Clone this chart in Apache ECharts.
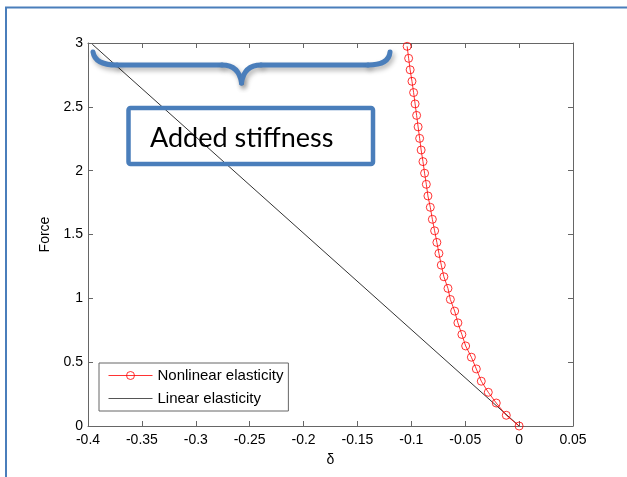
<!DOCTYPE html>
<html>
<head>
<meta charset="utf-8">
<script src="https://cdn.jsdelivr.net/npm/echarts@6/dist/echarts.min.js"></script>
<style>
    html, body { margin: 0; padding: 0; background: #fff; }
    #chart { width: 627px; height: 477px; }
</style>
</head>
<body>
<div id="chart"></div>
<script>
    // delta / force
    const nonlinearDelta = [0, -0.0119, -0.0212, -0.0286, -0.0351, -0.0397, -0.0443, -0.0496, -0.0531, -0.0568,
        -0.0598, -0.0638, -0.0660, -0.0698, -0.0722, -0.0744, -0.0763, -0.0784, -0.0805, -0.0824,
        -0.0846, -0.0861, -0.0877, -0.0892, -0.0909, -0.0923, -0.0937, -0.0951, -0.0965, -0.0979,
        -0.0994, -0.1011, -0.1025, -0.1039];
    const nonlinearForce = [0, 0.084, 0.180, 0.264, 0.351, 0.447, 0.539, 0.627, 0.717, 0.808,
        0.900, 0.991, 1.078, 1.169, 1.260, 1.352, 1.438, 1.529, 1.619, 1.713,
        1.802, 1.893, 1.980, 2.071, 2.162, 2.253, 2.343, 2.433, 2.523, 2.612,
        2.700, 2.790, 2.880, 2.974];
    const linearDelta = [0, -0.396];
    const linearForce = [0, 2.99];
    const seriesNames = ['Nonlinear elasticity', 'Linear elasticity'];
    const xTicks = { min: -0.4, max: 0.05, step: 0.05 };
    const yTicks = { min: 0, max: 3, step: 0.5 };

    const chart = echarts.init(document.getElementById('chart'));

    const axisColor = '#666';
    const font = 'Liberation Sans, Arial, sans-serif';
    const blue = '#4a7ebb';
    const red = 'rgba(255,0,0,0.8)';

    function fmt(v) {
        return String(Math.round(v * 100) / 100);
    }

    // 框线四边都带刻度，上/右轴只画刻度
    function xAxis(pos, labels) {
        return {
            type: 'value', position: pos,
            min: xTicks.min, max: xTicks.max, interval: xTicks.step,
            axisLine: { show: true, onZero: false, lineStyle: { color: axisColor, width: 1 } },
            axisTick: { show: true, inside: true, length: 5, lineStyle: { color: axisColor } },
            axisLabel: { show: labels, margin: 7, color: '#000', fontFamily: font, fontSize: 14, formatter: fmt },
            splitLine: { show: false },
            name: labels ? 'δ' : '', nameLocation: 'middle', nameGap: 27,
            nameTextStyle: { color: '#000', fontFamily: font, fontSize: 14 }
        };
    }
    function yAxis(pos, labels) {
        return {
            type: 'value', position: pos,
            min: yTicks.min, max: yTicks.max, interval: yTicks.step,
            axisLine: { show: true, onZero: false, lineStyle: { color: axisColor, width: 1 } },
            axisTick: { show: true, inside: true, length: 5, lineStyle: { color: axisColor } },
            axisLabel: { show: labels, margin: 5, color: '#000', fontFamily: font, fontSize: 14, formatter: fmt },
            splitLine: { show: false },
            name: labels ? 'Force' : '', nameLocation: 'middle', nameGap: 34,
            nameTextStyle: { color: '#000', fontFamily: font, fontSize: 14 }
        };
    }

    // 花括号：几段曲线拼起来
    const braceStyle = {
        fill: 'none', stroke: blue, lineWidth: 5, lineCap: 'round',
        shadowBlur: 5, shadowOffsetX: 2, shadowOffsetY: 3, shadowColor: 'rgba(0,0,0,0.3)'
    };
    function curve(x1, y1, cx, cy, x2, y2) {
        return {
            type: 'bezierCurve', silent: true, z: 10,
            shape: { x1: x1, y1: y1, cpx1: cx, cpy1: cy, x2: x2, y2: y2 },
            style: braceStyle
        };
    }
    function seg(x1, y1, x2, y2) {
        return {
            type: 'line', silent: true, z: 10,
            shape: { x1: x1, y1: y1, x2: x2, y2: y2 },
            style: braceStyle
        };
    }

    const option = {
        animation: false,
        backgroundColor: '#fff',
        grid: { left: 88, right: 54, top: 43, bottom: 51 },
        xAxis: [xAxis('bottom', true), xAxis('top', false)],
        yAxis: [yAxis('left', true), yAxis('right', false)],
        legend: {
            orient: 'vertical',
            left: 99, top: 363,
            padding: [5, 5, 5, 9],
            itemGap: 8,
            itemWidth: 44,
            itemHeight: 10,
            borderColor: axisColor,
            borderWidth: 1,
            backgroundColor: '#fff',
            lineStyle: { width: 1 },
            textStyle: { color: '#000', fontFamily: font, fontSize: 15 },
            data: [
                { name: seriesNames[0], itemStyle: { borderWidth: 1 } },
                { name: seriesNames[1], icon: 'path://M0,0L44,0L44,1L0,1Z' }
            ]
        },
        series: [
            {
                name: seriesNames[0],
                type: 'line',
                data: nonlinearDelta.map((d, i) => [d, nonlinearForce[i]]),
                symbol: 'circle',
                symbolSize: 8,
                lineStyle: { color: red, width: 1 },
                itemStyle: { color: 'rgba(255,255,255,0)', borderColor: red, borderWidth: 1 },
                z: 3
            },
            {
                name: seriesNames[1],
                type: 'line',
                data: linearDelta.map((d, i) => [d, linearForce[i]]),
                symbol: 'none',
                lineStyle: { color: '#333', width: 1 },
                itemStyle: { color: '#555' },
                z: 2
            }
        ],
        graphic: [
            {
                type: 'rect', silent: true,
                shape: { x: 6, y: 7.5, width: 800, height: 800 },
                style: { fill: 'none', stroke: blue, lineWidth: 2 }
            },
            curve(93, 52, 95, 65, 117, 65),
            seg(117, 65, 222, 65),
            curve(222, 65, 239, 65, 241.5, 83),
            curve(241.5, 83, 244, 65, 261, 65),
            seg(261, 65, 368, 65),
            curve(368, 65, 389, 65, 390, 52),
            {
                type: 'rect', silent: true, z: 10,
                shape: { x: 128.5, y: 108, width: 244.5, height: 56, r: 2 },
                style: { fill: 'none', stroke: blue, lineWidth: 4.5 }
            },
            {
                type: 'text', silent: true, z: 11,
                left: 150, top: 125,
                style: { text: 'Added stiffness', fill: '#000', font: '27px Lato, "Open Sans", sans-serif' }
            }
        ]
    };

    chart.setOption(option);
</script>
</body>
</html>
